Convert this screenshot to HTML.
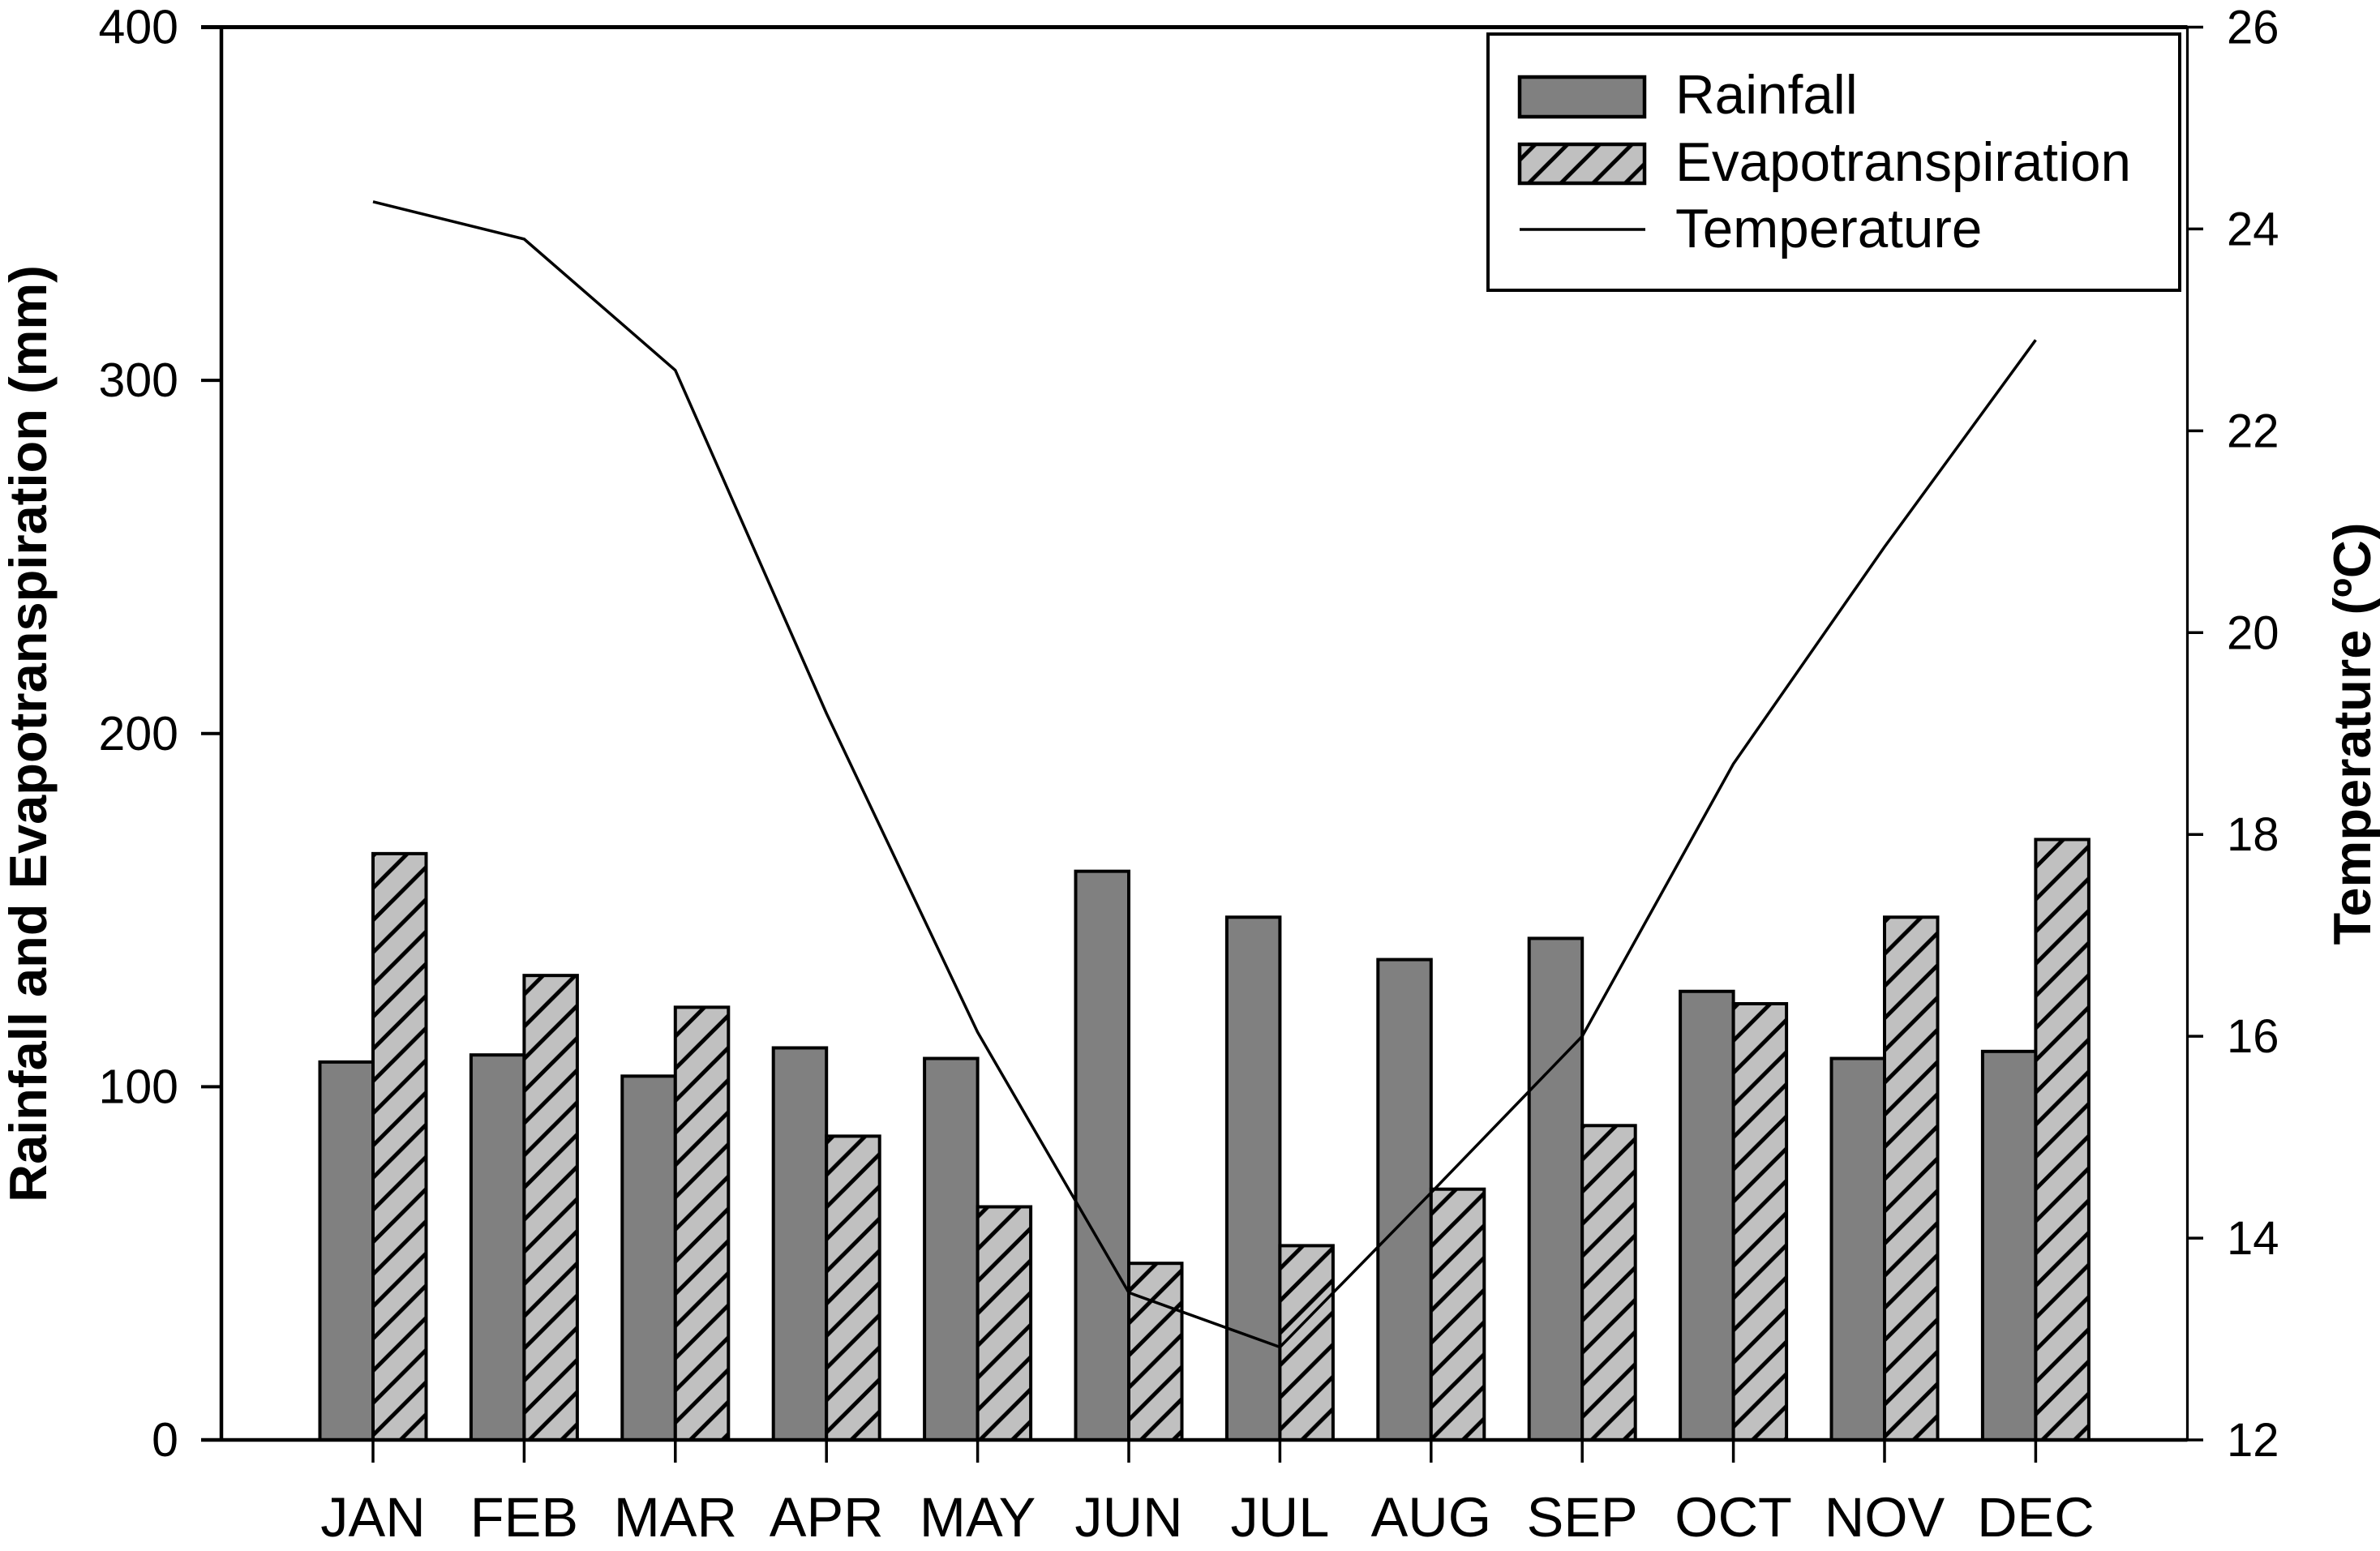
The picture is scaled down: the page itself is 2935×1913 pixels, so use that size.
<!DOCTYPE html>
<html lang="en">
<head>
<meta charset="utf-8">
<title>Rainfall, Evapotranspiration and Temperature</title>
<style>
html,body{margin:0;padding:0;background:#fff;}
svg{display:block;}
text{font-family:"Liberation Sans",Arial,sans-serif;fill:#000;}
</style>
</head>
<body>
<svg id="chart" xmlns="http://www.w3.org/2000/svg" width="2935" height="1913" viewBox="0 0 2935 1913">
  <defs>
    <pattern id="hatch" patternUnits="userSpaceOnUse" width="39.7" height="39.7" patternTransform="translate(7 0)">
      <rect width="39.7" height="39.7" fill="#c0c0c0"/>
      <path d="M-10 10 L10 -10 M-10 49.7 L49.7 -10 M29.7 49.7 L49.7 29.7" stroke="#000" stroke-width="5" fill="none"/>
    </pattern>
  </defs>
  <rect x="0" y="0" width="2935" height="1913" fill="#fff"/>
  <g id="bars-rainfall"></g>
  <g id="bars-et"></g>
  <path id="temp-line" fill="none" stroke="#000" stroke-width="3.5" stroke-linejoin="round"/>
  <g id="axes"></g>
  <text transform="translate(57 905) rotate(-90)" text-anchor="middle" font-size="65" font-weight="bold">Rainfall and Evapotranspiration (mm)</text>
  <text transform="translate(2923 905) rotate(-90)" text-anchor="middle" font-size="65" font-weight="bold">Temperature (ºC)</text>
  <g>
    <rect x="1835" y="42" width="853" height="316" fill="#fff" stroke="#000" stroke-width="4"/>
    <rect x="1874" y="95" width="154" height="49" fill="#808080" stroke="#000" stroke-width="4.5"/>
    <text x="2066" y="140" font-size="67.4">Rainfall</text>
    <rect x="1874" y="178" width="154" height="48" fill="url(#hatch)" stroke="#000" stroke-width="4.5"/>
    <text x="2066" y="223" font-size="67.4">Evapotranspiration</text>
    <line x1="1874" x2="2029" y1="283" y2="283" stroke="#000" stroke-width="3.5"/>
    <text x="2066" y="305" font-size="67.4">Temperature</text>
  </g>
</svg>
<script>
const months = ['JAN','FEB','MAR','APR','MAY','JUN','JUL','AUG','SEP','OCT','NOV','DEC'];
const rainfall = [107,109,103,111,108,161,148,136,142,127,108,110];
const evapotranspiration = [166,131.5,122.5,86,66,50,55,71,89,123.5,148,170];
const temperature = [24.27,23.9,22.6,19.2,16.04,13.46,12.92,14.45,16.0,18.7,20.85,22.9];
const leftTicks = [0,100,200,300,400];
const rightTicks = [12,14,16,18,20,22,24,26];

const NS = 'http://www.w3.org/2000/svg';
const plotTop = 33.5, plotBottom = 1776, plotLeft = 273, plotRight = 2697.5;
const firstMonthX = 460, monthStep = 186.4, barWidth = 65.5;

function xScale(i){ return firstMonthX + i * monthStep; }
function yLeft(v){ return plotBottom - (v - 0) / (400 - 0) * (plotBottom - plotTop); }
function yRight(v){ return plotBottom - (v - 12) / (26 - 12) * (plotBottom - plotTop); }
function make(tag, attrs, parent){
  const el = document.createElementNS(NS, tag);
  for (const k in attrs) el.setAttribute(k, attrs[k]);
  parent.appendChild(el);
  return el;
}

const rainGroup = document.getElementById('bars-rainfall');
rainfall.forEach(function(v, i){
  const r = make('rect', {x: xScale(i) - barWidth, y: yLeft(v), width: barWidth, height: plotBottom - yLeft(v), fill: '#808080', stroke: '#000', 'stroke-width': 4}, rainGroup);
  
  
});

const etGroup = document.getElementById('bars-et');
evapotranspiration.forEach(function(v, i){
  const r = make('rect', {x: xScale(i), y: yLeft(v), width: barWidth, height: plotBottom - yLeft(v), fill: 'url(#hatch)', stroke: '#000', 'stroke-width': 4}, etGroup);
  
  
});

document.getElementById('temp-line').setAttribute('d', temperature.map(function(v, i){
  return (i ? 'L' : 'M') + xScale(i) + ' ' + yRight(v);
}).join(' '));

const axes = document.getElementById('axes');
const spineLeft = make('line', {x1: plotLeft, x2: plotLeft, y1: plotTop, y2: plotBottom, stroke: '#000', 'stroke-width': 4.5}, axes);


const spineRight = make('line', {x1: plotRight, x2: plotRight, y1: plotTop, y2: plotBottom, stroke: '#000', 'stroke-width': 3.2}, axes);


const spineTop = make('line', {x1: 248, x2: plotRight, y1: plotTop, y2: plotTop, stroke: '#000', 'stroke-width': 5}, axes);


const spineBottom = make('line', {x1: 248, x2: plotRight, y1: plotBottom, y2: plotBottom, stroke: '#000', 'stroke-width': 4.5}, axes);



leftTicks.forEach(function(v){
  const t = make('line', {x1: 248, x2: plotLeft, y1: yLeft(v), y2: yLeft(v), stroke: '#000', 'stroke-width': 4}, axes);
  
  
  const l = make('text', {x: 220, y: yLeft(v) + 20, 'text-anchor': 'end', 'font-size': 59}, axes);
  
  
  l.textContent = v;
});

rightTicks.forEach(function(v){
  const t = make('line', {x1: plotRight, x2: 2717, y1: yRight(v), y2: yRight(v), stroke: '#000', 'stroke-width': 3.5}, axes);
  
  
  const l = make('text', {x: 2746, y: yRight(v) + 20, 'font-size': 58}, axes);
  
  
  l.textContent = v;
});

months.forEach(function(m, i){
  const t = make('line', {x1: xScale(i), x2: xScale(i), y1: plotBottom, y2: 1804, stroke: '#000', 'stroke-width': 3.5}, axes);
  
  
  const l = make('text', {x: xScale(i), y: 1895, 'text-anchor': 'middle', 'font-size': 68.5}, axes);
  
  
  l.textContent = m;
});
</script>
</body>
</html>
